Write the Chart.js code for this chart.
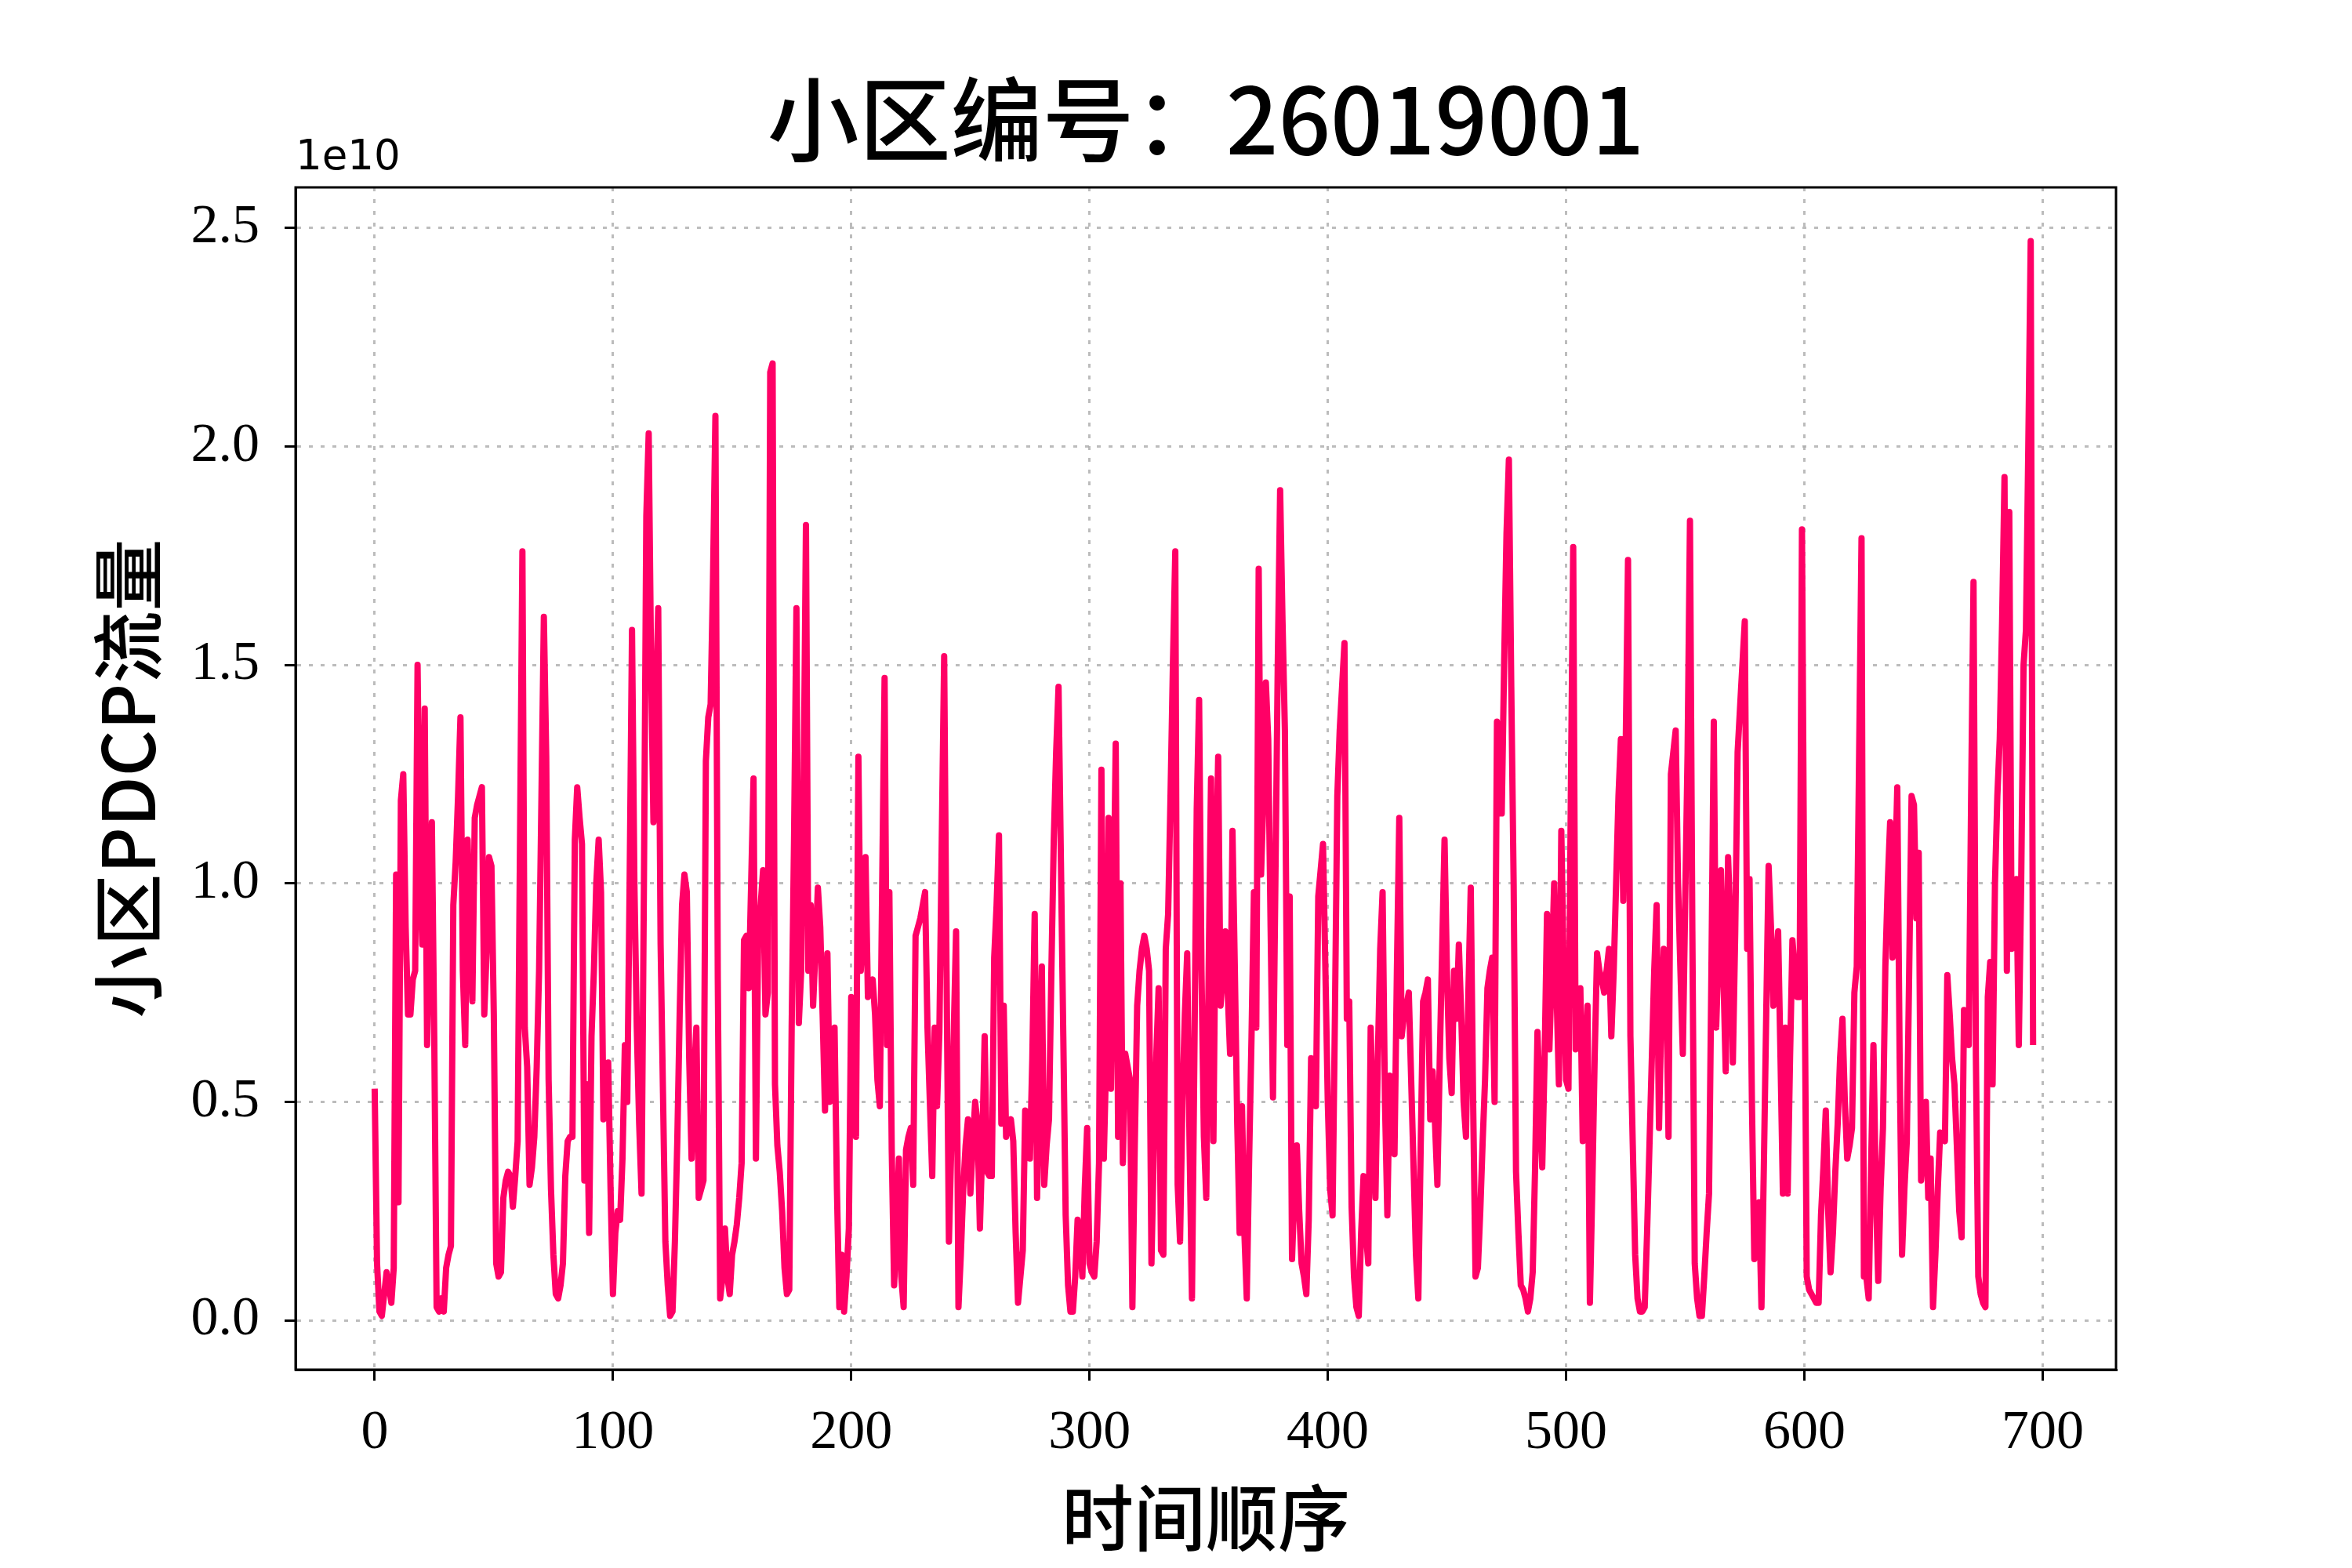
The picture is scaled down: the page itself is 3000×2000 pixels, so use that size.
<!DOCTYPE html>
<html lang="zh">
<head>
<meta charset="UTF-8" />
<title>小区编号：26019001</title>
<script src="https://cdn.jsdelivr.net/npm/chart.js@4"></script>
<style>
  html, body { margin: 0; padding: 0; background: #fff; }
  #wrap { width: 3000px; height: 2000px; }
</style>
</head>
<body>
<div id="wrap"><canvas id="flowChart" width="3000" height="2000"></canvas></div>
<script>
  const cellId = '26019001';
  const xTicks = [0, 100, 200, 300, 400, 500, 600, 700];
  const yTicks = [0.0, 0.5, 1.0, 1.5, 2.0, 2.5];
  const yOffsetText = '1e10';

  // PDCP traffic per time step, in units of 1e10
  const pdcpFlow = [
    0.53, 0.13, 0.02, 0.01, 0.06, 0.11, 0.08, 0.04, 0.12, 1.02,
    0.27, 1.19, 1.25, 0.90, 0.70, 0.70, 0.78, 0.80, 1.50, 1.02,
    0.86, 1.40, 0.63, 0.90, 1.14, 0.65, 0.03, 0.02, 0.05, 0.02,
    0.12, 0.15, 0.17, 0.95, 1.05, 1.20, 1.38, 0.80, 0.63, 1.10,
    0.90, 0.73, 1.15, 1.18, 1.20, 1.22, 0.70, 0.85, 1.06, 1.04,
    0.70, 0.13, 0.10, 0.11, 0.28, 0.32, 0.34, 0.33, 0.26, 0.33,
    0.41, 1.10, 1.76, 0.67, 0.58, 0.31, 0.35, 0.42, 0.58, 0.80,
    1.20, 1.61, 1.29, 0.55, 0.30, 0.15, 0.06, 0.05, 0.08, 0.13,
    0.33, 0.41, 0.42, 0.42, 1.10, 1.22, 1.15, 1.09, 0.32, 0.54,
    0.20, 0.65, 0.80, 1.00, 1.10, 0.98, 0.46, 0.52, 0.59, 0.30,
    0.06, 0.20, 0.25, 0.23, 0.37, 0.63, 0.50, 1.00, 1.58, 1.00,
    0.67, 0.45, 0.29, 1.00, 1.84, 2.03, 1.50, 1.14, 1.40, 1.63,
    0.86, 0.52, 0.18, 0.08, 0.01, 0.02, 0.18, 0.41, 0.70, 0.95,
    1.02, 0.98, 0.60, 0.37, 0.55, 0.67, 0.28, 0.30, 0.32, 1.28,
    1.38, 1.41, 1.70, 2.07, 0.78, 0.05, 0.10, 0.21, 0.10, 0.06,
    0.15, 0.18, 0.22, 0.28, 0.36, 0.87, 0.88, 0.76, 1.00, 1.24,
    0.37, 0.91, 0.95, 1.03, 0.70, 0.75, 2.17, 2.19, 0.54, 0.40,
    0.34, 0.25, 0.12, 0.06, 0.07, 0.67, 1.10, 1.63, 0.68, 0.80,
    1.20, 1.82, 0.80, 0.95, 0.72, 0.85, 0.99, 0.90, 0.70, 0.48,
    0.84, 0.50, 0.60, 0.67, 0.30, 0.03, 0.15, 0.02, 0.10, 0.21,
    0.74, 0.55, 0.42, 1.29, 0.80, 0.90, 1.06, 0.74, 0.76, 0.78,
    0.70, 0.55, 0.49, 1.00, 1.47, 0.63, 0.98, 0.39, 0.08, 0.20,
    0.37, 0.10, 0.03, 0.39, 0.42, 0.44, 0.31, 0.88, 0.90, 0.92,
    0.95, 0.98, 0.67, 0.50, 0.33, 0.67, 0.49, 0.66, 1.10, 1.52,
    0.80, 0.18, 0.40, 0.65, 0.89, 0.03, 0.15, 0.30, 0.40, 0.46,
    0.29, 0.40, 0.50, 0.45, 0.21, 0.40, 0.65, 0.34, 0.33, 0.33,
    0.83, 0.95, 1.11, 0.45, 0.72, 0.42, 0.45, 0.46, 0.41, 0.20,
    0.04, 0.10, 0.16, 0.48, 0.42, 0.37, 0.60, 0.93, 0.28, 0.55,
    0.81, 0.31, 0.40, 0.46, 0.80, 1.10, 1.30, 1.45, 1.05, 0.65,
    0.24, 0.08, 0.02, 0.02, 0.10, 0.23, 0.18, 0.10, 0.30, 0.44,
    0.13, 0.11, 0.10, 0.18, 0.36, 1.26, 0.37, 0.60, 1.15, 0.53,
    0.90, 1.32, 0.42, 1.00, 0.36, 0.61, 0.58, 0.55, 0.03, 0.40,
    0.72, 0.80, 0.85, 0.88, 0.85, 0.80, 0.13, 0.40, 0.60, 0.76,
    0.16, 0.15, 0.85, 0.93, 1.20, 1.50, 1.76, 0.31, 0.18, 0.50,
    0.70, 0.84, 0.40, 0.05, 0.60, 1.17, 1.42, 0.80, 0.42, 0.28,
    0.80, 1.24, 0.41, 1.00, 1.29, 0.72, 0.80, 0.89, 0.75, 0.61,
    1.12, 0.80, 0.45, 0.20, 0.49, 0.20, 0.05, 0.37, 0.65, 0.98,
    0.67, 1.72, 1.02, 1.20, 1.46, 1.33, 0.90, 0.51, 1.00, 1.50,
    1.90, 1.60, 1.35, 0.63, 0.97, 0.14, 0.30, 0.40, 0.25, 0.13,
    0.10, 0.06, 0.23, 0.60, 0.55, 0.49, 0.97, 1.03, 1.09, 0.80,
    0.50, 0.30, 0.24, 0.70, 1.20, 1.35, 1.45, 1.55, 0.69, 0.73,
    0.26, 0.10, 0.03, 0.01, 0.20, 0.33, 0.20, 0.13, 0.67, 0.45,
    0.28, 0.60, 0.85, 0.98, 0.50, 0.24, 0.56, 0.45, 0.38, 0.80,
    1.15, 0.65, 0.70, 0.72, 0.75, 0.55, 0.35, 0.15, 0.05, 0.40,
    0.73, 0.75, 0.78, 0.46, 0.57, 0.45, 0.31, 0.60, 0.85, 1.10,
    0.80, 0.60, 0.52, 0.80, 0.69, 0.86, 0.70, 0.50, 0.42, 0.75,
    0.99, 0.50, 0.10, 0.12, 0.25, 0.41, 0.55, 0.76, 0.80, 0.83,
    0.50, 1.37, 1.16, 1.16, 1.50, 1.80, 1.97, 1.45, 1.00, 0.34,
    0.20, 0.08, 0.07, 0.05, 0.02, 0.05, 0.11, 0.35, 0.66, 0.50,
    0.35, 0.60, 0.93, 0.62, 0.80, 1.00, 0.75, 0.54, 1.12, 0.80,
    0.55, 0.53, 1.20, 1.77, 0.62, 0.70, 0.76, 0.41, 0.60, 0.72,
    0.04, 0.30, 0.60, 0.84, 0.80, 0.78, 0.75, 0.80, 0.85, 0.65,
    0.80, 1.00, 1.20, 1.33, 0.96, 1.30, 1.74, 0.65, 0.40, 0.15,
    0.05, 0.02, 0.02, 0.03, 0.20, 0.40, 0.60, 0.80, 0.95, 0.44,
    0.70, 0.85, 0.80, 0.42, 1.25, 1.30, 1.35, 1.00, 0.80, 0.61,
    0.96, 1.30, 1.83, 0.89, 0.13, 0.05, 0.01, 0.01, 0.10, 0.20,
    0.29, 0.80, 1.37, 0.67, 0.85, 1.03, 0.80, 0.57, 1.06, 0.90,
    0.59, 0.89, 1.30, 1.40, 1.50, 1.60, 0.85, 1.01, 0.50, 0.14,
    0.20, 0.27, 0.03, 0.35, 0.70, 1.04, 0.90, 0.72, 0.80, 0.89,
    0.60, 0.29, 0.67, 0.29, 0.60, 0.87, 0.80, 0.74, 0.74, 1.81,
    0.90, 0.10, 0.07, 0.06, 0.05, 0.04, 0.04, 0.24, 0.35, 0.48,
    0.25, 0.11, 0.20, 0.34, 0.45, 0.60, 0.69, 0.50, 0.37, 0.40,
    0.44, 0.75, 0.81, 1.30, 1.79, 0.10, 0.10, 0.05, 0.35, 0.63,
    0.30, 0.09, 0.30, 0.44, 0.81, 1.00, 1.14, 0.83, 1.00, 1.22,
    0.60, 0.15, 0.30, 0.41, 0.80, 1.20, 1.18, 0.92, 1.07, 0.32,
    0.40, 0.50, 0.28, 0.37, 0.03, 0.15, 0.30, 0.43, 0.42, 0.41,
    0.79, 0.70, 0.60, 0.54, 0.40, 0.25, 0.19, 0.71, 0.67, 0.63,
    1.20, 1.69, 0.60, 0.10, 0.06, 0.04, 0.03, 0.74, 0.82, 0.54,
    1.00, 1.20, 1.33, 1.60, 1.93, 0.80, 1.85, 0.85, 0.95, 1.01,
    0.63, 1.00, 1.50, 1.58, 2.00, 2.47, 0.63
  ];

  // frame of the axes box on the 3000x2000 canvas
  const AX_LEFT = 377, AX_TOP = 239, AX_RIGHT = 2699, AX_BOTTOM = 1747;

  // titles, offset text and the closed black box
  const decorations = {
    id: 'decorations',
    afterDraw(chart) {
      const { ctx, chartArea: a } = chart;
      ctx.save();
      ctx.strokeStyle = '#000';
      ctx.lineWidth = 3;
      ctx.strokeRect(a.left, a.top, a.right - a.left, a.bottom - a.top);

      ctx.fillStyle = '#000';
      ctx.textAlign = 'center';
      ctx.textBaseline = 'middle';
      ctx.font = '500 117px "Noto Sans CJK SC"';
      ctx.fillText('小区编号：' + cellId, (a.left + a.right) / 2, 153);

      ctx.font = '500 92px "Noto Sans CJK SC"';
      ctx.fillText('时间顺序', (a.left + a.right) / 2, 1936);

      ctx.save();
      ctx.translate(163, (a.top + a.bottom) / 2);
      ctx.rotate(-Math.PI / 2);
      ctx.fillText('小区PDCP流量', 0, 0);
      ctx.restore();

      ctx.textAlign = 'left';
      ctx.textBaseline = 'alphabetic';
      ctx.font = '53px "DejaVu Sans"';
      ctx.fillText(yOffsetText, a.left, 216);
      ctx.restore();
    }
  };

  const gridStyle = {
    color: 'rgba(176, 176, 176, 0.85)',
    lineWidth: 3,
    tickColor: '#000',
    tickLength: 14,
    tickWidth: 3,
    tickBorderDash: []
  };

  new Chart(document.getElementById('flowChart'), {
    type: 'line',
    data: {
      datasets: [{
        data: pdcpFlow.map((v, i) => ({ x: i, y: v })),
        borderColor: '#ff0066',
        borderWidth: 8,
        borderJoinStyle: 'round',
        borderCapStyle: 'butt',
        pointRadius: 0,
        tension: 0,
        fill: false
      }]
    },
    options: {
      responsive: false,
      devicePixelRatio: 1,
      animation: false,
      layout: { padding: { top: AX_TOP, right: 3000 - AX_RIGHT, bottom: 0, left: 0 } },
      plugins: {
        legend: { display: false },
        tooltip: { enabled: false },
        title: { display: false }
      },
      scales: {
        x: {
          type: 'linear',
          min: -33.2,
          max: 730.8,
          afterFit: (s) => { s.height = 2000 - AX_BOTTOM; },
          afterBuildTicks: (s) => { s.ticks = xTicks.map(v => ({ value: v })); },
          grid: gridStyle,
          border: { display: true, color: '#000', width: 3, dash: [5, 10] },
          ticks: {
            color: '#000',
            padding: 26,
            maxRotation: 0,
            font: { family: 'Liberation Serif', size: 70 },
            callback: (v) => String(v)
          }
        },
        y: {
          type: 'linear',
          min: -0.113,
          max: 2.593,
          afterFit: (s) => { s.width = AX_LEFT; },
          afterBuildTicks: (s) => { s.ticks = yTicks.map(v => ({ value: v })); },
          grid: gridStyle,
          border: { display: true, color: '#000', width: 3, dash: [5, 10] },
          ticks: {
            color: '#000',
            padding: 32,
            font: { family: 'Liberation Serif', size: 70 },
            callback: (v) => Number(v).toFixed(1)
          }
        }
      }
    },
    plugins: [decorations]
  });
</script>
</body>
</html>
